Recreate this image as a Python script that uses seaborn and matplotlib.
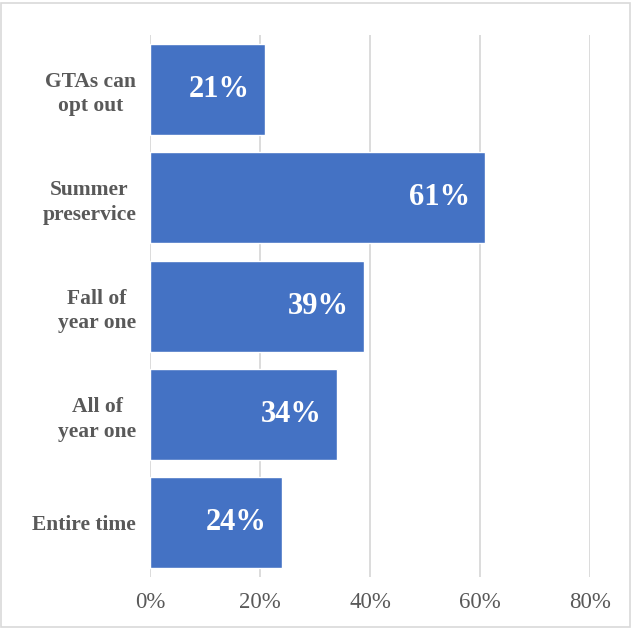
import matplotlib
matplotlib.use("Agg")
import matplotlib.pyplot as plt
import matplotlib.patches as mpatches
import pandas as pd
import seaborn as sns

# categorias y valores
categories = ["GTAs can\nopt out", "Summer\npreservice", "Fall of\nyear one", "All of\nyear one", "Entire time"]
values = [21, 61, 39, 34, 24]
xticks = [0, 20, 40, 60, 80]
xtick_labels = ["0%", "20%", "40%", "60%", "80%"]

df = pd.DataFrame({"category": categories, "value": values})

sns.set_style("white")
plt.rcParams["font.family"] = ["Liberation Serif", "DejaVu Serif"]

fig = plt.figure(figsize=(6.31, 6.28), dpi=100)
ax = fig.add_axes([0.2377, 0.081, 0.935 - 0.2377, 0.944 - 0.081])

sns.barplot(data=df, x="value", y="category", orient="h", color="#4472C4",
            saturation=1, width=0.84, ax=ax, zorder=3)

for i, v in enumerate(values):
    ax.annotate(f"{v}%", xy=(v, i), xytext=(-11, 0), textcoords="offset points",
                ha="right", va="center", color="white", fontsize=22, fontweight="bold", zorder=4)

ax.set_xlim(0, 80)
ax.set_xticks(xticks)
ax.set_xticklabels(xtick_labels, fontsize=16.5, color="#595959")
ax.set_yticks(range(len(categories)))
ax.set_yticklabels(categories, fontsize=15.5, fontweight="bold", color="#595959",
                   multialignment="center", linespacing=1.3)
ax.tick_params(axis="both", length=0)
ax.tick_params(axis="y", pad=10)
ax.tick_params(axis="x", pad=11)
ax.set_xlabel("")
ax.set_ylabel("")
for s in ax.spines.values():
    s.set_visible(False)
ax.grid(axis="x", color="#d9d9d9", linewidth=1.3, zorder=0)
ax.set_axisbelow(True)

# marco exterior del grafico
fig.patches.append(mpatches.Rectangle((0.002, 0.002), 0.996, 0.993, transform=fig.transFigure,
                                      fill=False, edgecolor="#d9d9d9", linewidth=1.2))

fig.savefig("out.png", dpi=100)
